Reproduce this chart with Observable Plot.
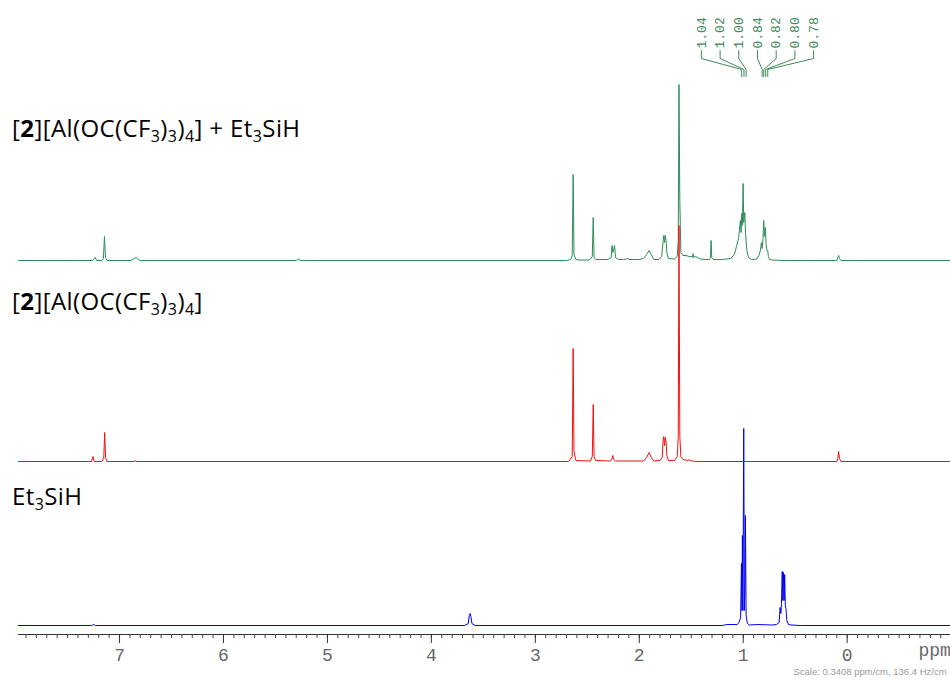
<!DOCTYPE html>
<html><head><meta charset="utf-8">
<script src="https://cdn.jsdelivr.net/npm/d3@7"></script>
<script src="https://cdn.jsdelivr.net/npm/@observablehq/plot@0.6"></script>
<style>
body{margin:0;background:#fff;}
#chart{position:relative;width:950px;height:680px;overflow:hidden;}
</style>
</head><body><div id="chart"></div>
<script>
// ---- Data (ppm, intensity) ----
const greenPpm = [7.972,7.40,7.26,7.235,7.22,7.17,7.155,7.145,7.135,7.12,6.89,6.86,6.84,6.82,6.80,5.30,5.28,5.26,2.70,2.66,2.645,2.636,2.628,2.61,2.58,2.48,2.452,2.443,2.435,2.42,2.30,2.27,2.262,2.255,2.248,2.238,2.228,2.20,2.15,2.12,2.11,2.10,2.00,1.96,1.93,1.905,1.885,1.86,1.81,1.785,1.77,1.764,1.757,1.75,1.742,1.735,1.72,1.66,1.635,1.625,1.618,1.61,1.60,1.58,1.55,1.52,1.50,1.488,1.482,1.476,1.46,1.44,1.41,1.36,1.325,1.315,1.309,1.303,1.29,1.20,1.12,1.085,1.065,1.045,1.033,1.027,1.021,1.014,1.008,1.001,0.995,0.985,0.978,0.965,0.95,0.92,0.87,0.85,0.835,0.825,0.818,0.81,0.803,0.796,0.787,0.78,0.772,0.764,0.758,0.745,0.72,0.60,0.10,0.09,0.082,0.074,0.06,-0.994];
const greenInt = [0,0,0,3,0,0,2,24,3,0,0,2,3,1,0,0,1.5,0,0,1,5,86,6,1,0.5,0.5,4,43,3,1,1,3,15,8,10,15,3,1,1,1.5,2.5,1,1,2,6,10,6,1,1,4,20,25,18,25,20,8,2,1.5,4,20,176,60,8,5,5,4,4,3,7,3,4,3,1.5,1,1,3,20,3,1,1,2,6,14,22,35,40,28,47,35,77,38,48,28,10,3,1,1.5,5,10,18,12,22,40,24,33,16,10,10,4,1,0.5,0,0,3,5,2,0,0];

const redPpm = [7.972,7.30,7.27,7.255,7.245,7.17,7.152,7.143,7.134,7.12,6.86,6.85,6.84,2.68,2.645,2.636,2.628,2.61,2.47,2.452,2.443,2.435,2.42,2.28,2.265,2.255,2.245,2.23,1.96,1.93,1.905,1.885,1.86,1.80,1.78,1.77,1.764,1.757,1.75,1.742,1.735,1.72,1.66,1.635,1.625,1.618,1.61,1.60,1.58,1.53,1.524,1.515,1.49,1.45,0.10,0.09,0.082,0.074,0.06,-0.994];
const redInt = [0,0,0,5,0,0,3,29,4,0,0,1,0,0,5,113,10,1,0.5,5,57,5,1,0.5,2,6,2,0.5,0.5,4,9,4,0.5,1,4,22,25,16,24,20,6,1,1,5,25,236,25,5,2,1,2,1,0.5,0,0,3,10,3,0,0];

const bluePpm = [7.972,7.27,7.25,7.23,3.68,3.645,3.635,3.628,3.62,3.61,3.58,1.20,1.16,1.06,1.04,1.025,1.017,1.012,1.008,1.003,0.995,0.989,0.983,0.979,0.972,0.96,0.94,0.86,0.72,0.68,0.655,0.645,0.638,0.632,0.625,0.619,0.613,0.607,0.601,0.595,0.589,0.58,0.565,0.54,0.45,-0.994];
const blueInt = [0,0,1,0,0,2,10,12,9,2,0,0,1,1,3,8,62,15,90,15,197,15,40,110,10,2,0.5,1,0.5,1,3,18,12,22,54,25,53,25,51,20,17,5,1,0.5,0,0];

// peak-pick labels above the top trace
const pickLabels = ["1.04","1.02","1.00","0.84","0.82","0.80","0.78"];
const pickPpm = [1.015,0.993,0.972,0.818,0.803,0.784,0.764];

// axis ticks
const majorTicks = [7,6,5,4,3,2,1,0];
const minorTicks = d3.range(-9, 80).map(d => d / 10);

// trace labels (segments: text, sub = subscript, b = bold)
const labelTop = [["["],["2","b"],["][Al(OC(CF"],["3","sub"],[")"],["3","sub"],[")"],["4","sub"],["] + Et"],["3","sub"],["SiH"]];
const labelMid = [["["],["2","b"],["][Al(OC(CF"],["3","sub"],[")"],["3","sub"],[")"],["4","sub"],["]"]];
const labelBot = [["Et"],["3","sub"],["SiH"]];
const scaleText = "Scale: 0.3408 ppm/cm, 136.4 Hz/cm";

// ---- layout constants ----
const W = 950, H = 680, ML = 18, MB = 46;
const X0 = 7.972, X1 = -0.994;
const pxPerPpm = (W - ML) / (X0 - X1);
const OFF_G = 374, OFF_R = 173, OFF_B = 9;
const GREEN = "#2e8b57", RED = "#ee1111", BLUE = "#0000ee", LGREEN = "#3f8a5c";

const toRows = (p, v, off) => p.map((d, i) => ({ppm: d, y: v[i] + off}));
const green = toRows(greenPpm, greenInt, OFF_G);
const red = toRows(redPpm, redInt, OFF_R);
const blue = toRows(bluePpm, blueInt, OFF_B);

// label columns, spaced in pixels around the group centre
const centerPx = 757, stepPx = 18.7;
const pxToPpm = px => X0 - (px - ML) / pxPerPpm;
const labels = pickLabels.map((t, i) => ({t, x: pxToPpm(centerPx + (i - 3) * stepPx), y: 586}));
const leaders = [];
pickLabels.forEach((t, i) => {
  const lx = labels[i].x, tx = pickPpm[i];
  leaders.push({k: i, x: lx, y: 584}, {k: i, x: lx, y: 576}, {k: i, x: tx, y: 565}, {k: i, x: tx, y: 558});
});

const plot = Plot.plot({
  width: W, height: H,
  marginLeft: ML, marginRight: 0, marginTop: 0, marginBottom: MB,
  x: {domain: [X0, X1], label: null},
  y: {domain: [0, H - MB], axis: null},
  style: {fontFamily: "Liberation Mono", background: "#fff", overflow: "visible"},
  marks: [
    Plot.ruleY([0], {stroke: "#333"}),
    Plot.axisX(minorTicks, {tickSize: 4, tickFormat: () => "", stroke: "#444", label: null}),
    Plot.axisX(majorTicks, {tickSize: 9, tickPadding: 5, fontSize: 18, fontFamily: "Liberation Mono", fill: "#666", stroke: "#333", tickFormat: d => String(d), label: null}),
    Plot.text(["ppm"], {frameAnchor: "bottom-right", dx: -32, dy: 21, textAnchor: "start", fontSize: 18, fontFamily: "Liberation Mono", fill: "#666"}),
    Plot.text([scaleText], {frameAnchor: "bottom-right", dx: -157, dy: 40, textAnchor: "start", fontSize: 9.5, fontFamily: "Liberation Sans", fill: "#999"}),
    Plot.line(green, {x: "ppm", y: "y", stroke: GREEN, strokeWidth: 1}),
    Plot.line(red, {x: "ppm", y: "y", stroke: RED, strokeWidth: 1}),
    Plot.line(blue, {x: "ppm", y: "y", stroke: BLUE, strokeWidth: 1}),
    Plot.line(leaders, {x: "x", y: "y", z: "k", stroke: LGREEN, strokeWidth: 1}),
    Plot.text(labels, {x: "x", y: "y", text: "t", rotate: -90, textAnchor: "start", fontSize: 13, fontFamily: "Liberation Mono", fill: LGREEN})
  ]
});
document.getElementById("chart").appendChild(plot);

// trace labels with bold / subscript parts
const svg = d3.select(plot);
function addLabel(segs, x, y) {
  const t = svg.append("text").attr("x", x).attr("y", y)
    .attr("text-anchor", "start").style("text-anchor", "start")
    .attr("letter-spacing", 0.4)
    .attr("font-family", "Open Sans").attr("font-size", 24).attr("fill", "#000");
  let shifted = false;
  segs.forEach(([s, k]) => {
    const ts = t.append("tspan").text(s);
    if (k === "sub" && !shifted) { ts.attr("dy", 5).attr("font-size", 16); shifted = true; }
    else if (k === "sub") { ts.attr("font-size", 16); }
    else if (shifted) { ts.attr("dy", -5); shifted = false; }
    if (k === "b") ts.attr("font-weight", "bold");
  });
}
addLabel(labelTop, 12, 137);
addLabel(labelMid, 12, 310);
addLabel(labelBot, 12, 505);
</script>
</body></html>
